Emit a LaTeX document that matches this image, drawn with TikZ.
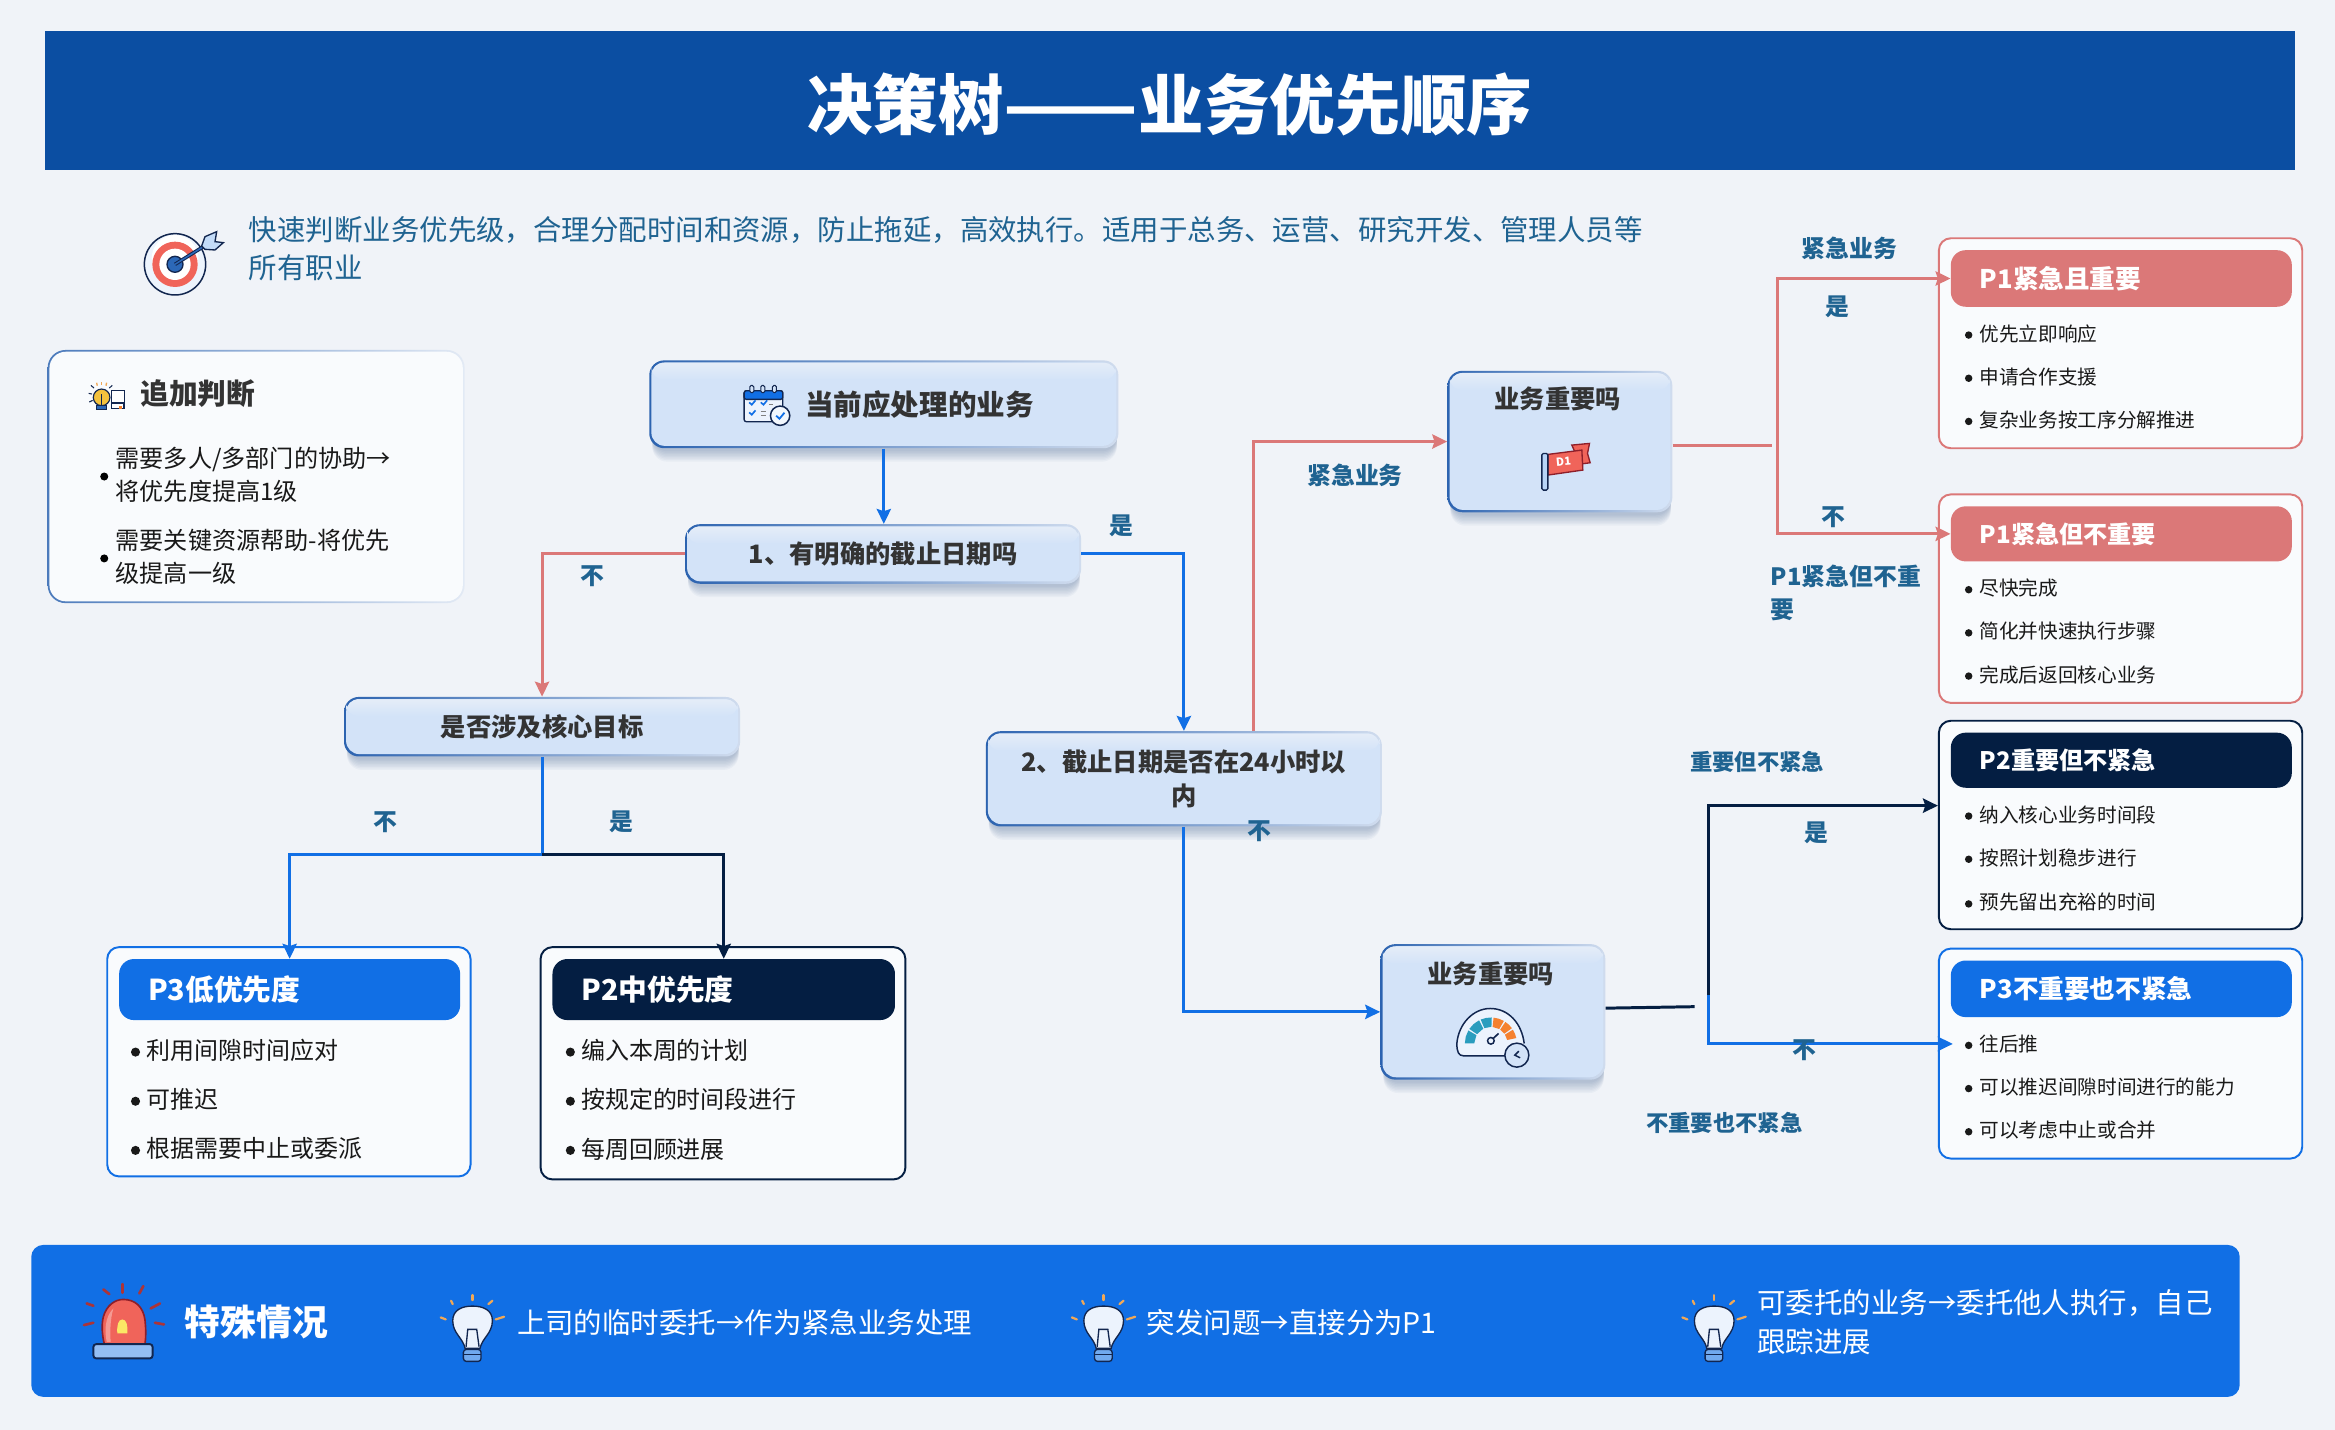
\documentclass[tikz,border=0pt]{standalone}
\usepackage{fontspec}
\setmainfont{Noto Sans CJK SC}
\usetikzlibrary{arrows.meta,calc}
\definecolor{bgc}{HTML}{F0F3F8}
\definecolor{titlec}{HTML}{0B4EA2}
\definecolor{tealc}{HTML}{1F6391}
\definecolor{bluec}{HTML}{116FE5}
\definecolor{navyc}{HTML}{041E42}
\definecolor{pinkc}{HTML}{DB7878}
\definecolor{decc}{HTML}{D3E3F8}
\definecolor{edgec}{HTML}{2C63B0}
\definecolor{edgeb}{HTML}{D0DCEE}
\definecolor{cardc}{HTML}{F9FBFD}
\definecolor{inkc}{HTML}{333333}
\definecolor{icn}{HTML}{12264F}
\definecolor{icblue}{HTML}{2C68B8}
\definecolor{icred}{HTML}{F0645A}
\definecolor{icdred}{HTML}{8E1F2A}
\definecolor{icorg}{HTML}{F5812F}
\definecolor{icteal}{HTML}{2A9DBE}
\definecolor{icray}{HTML}{F0A857}
\newcommand\myfs[2]{\fontsize{#1pt}{#2pt}\selectfont}
\tikzset{
  x=1pt,y=-1pt,
  conn/.style={line width=2pt,-{Stealth[length=10pt,width=9.5pt,inset=1.5pt]}},
  plain/.style={line width=2pt},
  edgelabel/.style={font=\myfs{16}{22}\bfseries,text=tealc,inner sep=0pt},
  itemtxt/.style={anchor=west,inner sep=0pt,text=black!90},
}
% decision box: name x1 y1 x2 y2 text
\newcommand\decbox[6]{%
  \foreach \i in {1,...,8}{\fill[edgec!70!black,opacity=.04,rounded corners=10pt] (#2+2,#3+\i+3) rectangle (#4-1,#5+\i+1);}
  \shade[left color=edgec,right color=edgeb,rounded corners=10pt] (#2,#3) rectangle (#4,#5);
  \fill[decc,rounded corners=9pt] (#2+1.4,#3+1.4) rectangle (#4-1.4,#5-1.6);
  \shade[top color=bgc!60!decc,bottom color=decc,rounded corners=8pt] (#2+1.6,#3+1.6) rectangle (#4-1.6,#3+13);
  \node[inner sep=0pt,minimum width={(#4-#2)*1pt},minimum height={(#5-#3)*1pt},align=center,text=inkc,font=\myfs{17}{23}\bfseries] (#1) at ({(#2+#4)/2},{(#3+#5)/2}) {#6};
}
% result card: name x1 y1 x2 y2 colour headerbottom fontsize text
\newcommand\rescard[9]{%
  \node[draw=#6,line width=1.3pt,fill=cardc,rounded corners=8pt,inner sep=0pt,minimum width={(#4-#2)*1pt},minimum height={(#5-#3)*1pt}] (#1) at ({(#2+#4)/2},{(#3+#5)/2}) {};
  \node[fill=#6,rounded corners=10pt,inner ysep=0pt,inner xsep=19.5pt,text width={(#4-#2-15-39)*1pt},minimum height={(#7-#3-8)*1pt},align=left,text=white,font=\myfs{#8}{#8}\bfseries] (#1h) at ({(#2+#4+1)/2},{(#3+8+#7)/2}) {#9};
}
\newcommand\ritem[5]{%
  \fill[black!90] (#2-7,#3+1) circle (#4*0.19pt);
  \node[itemtxt,font=\myfs{#4}{#4}] (#1) at (#2,#3) {#5};
}
\newcommand\bulbicon{%
  \foreach \a/\b/\c/\d in {63/62/68/72,127/45/127/60,187/62/175/72,32/112/47/118,222/110/197/118}
    {\draw[icray,line width=1.5pt,line cap=round] (\a,\b) -- (\c,\d);}
  \draw[icn,fill=white!92!bluec,line width=.9pt] (105,205) .. controls (100,175) and (68,160) .. (68,122) .. controls (68,90) and (95,78) .. (127,78) .. controls (160,78) and (187,90) .. (187,122) .. controls (187,160) and (155,175) .. (150,205) -- cycle;
  \draw[icn,line width=.9pt] (108,200) -- (113,148) -- (140,148) -- (147,200);
  \draw[icn,fill=bluec!60,line width=.9pt,rounded corners=2pt] (100,208) rectangle (153,244);
  \draw[icn,line width=.7pt] (100,222) -- (153,222);
}
\begin{document}
\begin{tikzpicture}
\useasboundingbox (0,0) rectangle (1568,960);
\fill[bgc] (0,0) rectangle (1568,960);

% title
\node[fill=titlec,inner sep=0pt,minimum width=1511pt,minimum height=93pt,text=white,font=\myfs{44}{50}\bfseries] (title) at (785.5,67.5) {\raisebox{-19.5pt}[0pt][0pt]{决策树\scalebox{1.2}[1]{——}业务优先顺序}};

% subtitle
\node[anchor=west,inner sep=0pt,text=tealc,align=left,font=\myfs{19.1}{26}] (subtitle) at (167,167) {快速判断业务优先级，合理分配时间和资源，防止拖延，高效执行。适用于总务、运营、研究开发、管理人员等\\所有职业};

% target icon
\begin{scope}[shift={(80.6,134.3)},scale=0.2238]
  \draw[icn,fill=white!70!bluec!25,line width=1pt] (165,193) circle (92);
  \fill[white] (165,175) circle (70);
  \fill[icred] (165,193) circle (68);
  \fill[white] (165,193) circle (47);
  \draw[icn,fill=icblue,line width=.9pt] (165,193) circle (24);
  \draw[icn,line width=2.4pt] (165,193) -- (250,140);
  \draw[icblue,line width=1pt] (165,193) -- (250,140);
  \draw[icn,fill=bluec!25,line width=.9pt] (245,138) -- (255,110) -- (290,95) -- (285,125) -- (310,128) -- (285,150) -- (255,148) -- cycle;
\end{scope}

% extra judgement card
\shade[left color=edgec!85,right color=edgeb!60!white,rounded corners=12pt] (32,235) rectangle (312,405);
\fill[cardc,rounded corners=11pt] (33.2,236.2) rectangle (310.8,403.8);
\begin{scope}[shift={(53.7,248.5)},scale=0.2238]
  \foreach \a/\b/\c/\d in {50/38/52/47,65/36/65/45,80/38/78/47}{\draw[icray,line width=.9pt] (\a,\b) -- (\c,\d);}
  \foreach \a/\b/\c/\d in {33/46/42/54,26/70/36/72,28/96/38/91,97/46/88/54}{\draw[icn,line width=.7pt] (\a,\b) -- (\c,\d);}
  \draw[icn,fill=icray!70!yellow,line width=.8pt] (65,82) circle (25);
  \draw[icn,line width=.8pt] (65,72) -- (65,104);
  \draw[icn,fill=icblue,line width=.6pt] (50,105) rectangle (80,118);
  \draw[icn,fill=white,line width=.7pt] (95,62) rectangle (135,98);
  \draw[icn,fill=white,line width=.8pt] (95,100) rectangle (132,115);
  \fill[icorg] (116,108) rectangle (127,116);
\end{scope}
\node[anchor=west,inner sep=0pt,text=inkc,font=\myfs{19.3}{24}\bfseries] (addtitle) at (94,264.5) {追加判断};
\fill[black] (70,320) circle (2.7pt);
\fill[black] (70,375) circle (2.7pt);
\node[anchor=west,inner sep=0pt,align=left,text=black!90,font=\myfs{16.2}{22}] (add1) at (77.5,319) {需要多人/多部门的协助→\\将优先度提高1级};
\node[anchor=west,inner sep=0pt,align=left,text=black!90,font=\myfs{16.2}{22}] (add2) at (77.5,374) {需要关键资源帮助-将优先\\级提高一级};

% decision boxes
\decbox{n0}{436}{242}{751}{301}{\hspace*{48pt}\myfs{19.2}{24}当前应处理的业务}
\decbox{n1}{460}{352}{726}{392}{1、有明确的截止日期吗}
\decbox{n3}{231}{468}{497}{508}{是否涉及核心目标}
\decbox{n2}{662}{491}{928}{555}{2、截止日期是否在24小时以\\内}
\decbox{v1}{972}{249}{1123}{344}{\hspace*{-3pt}业务重要吗\rule[-59pt]{0pt}{59pt}}
\decbox{v2}{927}{634}{1078}{725}{\hspace*{-3pt}业务重要吗\rule[-53pt]{0pt}{53pt}}

% calendar icon
\begin{scope}[shift={(490.3,248.5)},scale=0.2238]
  \draw[icn,fill=white!92!bluec,line width=.9pt,rounded corners=1.5pt] (42,62) rectangle (158,155);
  \draw[icn,fill=bluec,line width=.9pt,rounded corners=1.5pt] (42,62) rectangle (158,88);
  \foreach \a in {65,98,133}{\draw[icn,fill=decc,line width=.7pt,rounded corners=1pt] (\a-6,46) rectangle (\a+6,68);}
  \foreach \a/\b in {57/97,92/97,57/127}{\draw[bluec,line width=1.1pt] (\a,\b) -- (\a+8,\b+7) -- (\a+19,\b-6);}
  \draw[gray,line width=.6pt] (118,103) -- (130,103) (92,125) -- (108,125) (92,135) -- (108,135);
  \draw[icn,fill=white!70!decc,line width=1pt] (150,137) circle (29);
  \draw[bluec,line width=1.2pt] (138,137) -- (148,146) -- (163,128);
\end{scope}

% flag icon
\begin{scope}[shift={(1007.4,282.1)},scale=0.2238]
  \draw[icdred,fill=icred,line width=.9pt] (215,75) -- (268,70) -- (262,100) -- (270,128) -- (240,132) -- cycle;
  \draw[icdred,fill=icred,line width=.9pt] (143,103) -- (245,90) -- (248,150) -- (143,165) -- cycle;
  \draw[icn,fill=bluec!30,line width=.9pt,rounded corners=1pt] (125,100) rectangle (143,210);
  \node[text=white,inner sep=0pt,rotate=5,font=\myfs{7.5}{8}\bfseries] (flagtxt) at (190,124) {D1};
\end{scope}

% gauge icon
\begin{scope}[shift={(960.4,664.9)},scale=0.2238]
  \draw[icn,fill=white!92!bluec,line width=1pt] (225,197) -- (100,197) .. controls (85,197) and (80,185) .. (80,160) .. controls (85,100) and (130,55) .. (180,55) .. controls (235,55) and (275,100) .. (282,160);
  \foreach \s/\e/\c in {180/150/icteal,146/117/icteal,113/88/icteal,84/60/icorg,56/36/icorg,32/12/icorg}{
    \fill[\c] ({182+50*cos(\s)},{160-50*sin(\s)}) -- ({182+78*cos(\s)},{160-78*sin(\s)}) -- ({182+78*cos((\s+\e)/2)},{160-78*sin((\s+\e)/2)}) -- ({182+78*cos(\e)},{160-78*sin(\e)}) -- ({182+50*cos(\e)},{160-50*sin(\e)}) -- cycle;
  }
  \draw[icn,line width=1pt] (182,152) circle (10);
  \draw[icn,line width=1.1pt] (189,145) -- (205,130);
  \draw[icn,fill=decc,line width=1pt] (260,195) circle (36);
  \draw[icn,line width=1pt] (266,183) -- (254,195) -- (270,203);
\end{scope}

% result cards
\rescard{pa}{1302}{160}{1546}{301}{pinkc}{206}{17.2}{P1紧急且重要}
\ritem{pa1}{1329}{224}{13.2}{优先立即响应}
\ritem{pa2}{1329}{253}{13.2}{申请合作支援}
\ritem{pa3}{1329}{282}{13.2}{复杂业务按工序分解推进}

\rescard{pb}{1302}{332}{1546}{472}{pinkc}{377}{16.2}{P1紧急但不重要}
\ritem{pb1}{1329}{395}{13.2}{尽快完成}
\ritem{pb2}{1329}{424}{13.2}{简化并快速执行步骤}
\ritem{pb3}{1329}{453}{13.2}{完成后返回核心业务}

\rescard{pc}{1302}{484}{1546}{624}{navyc}{529}{16.2}{P2重要但不紧急}
\ritem{pc1}{1329}{547}{13.2}{纳入核心业务时间段}
\ritem{pc2}{1329}{576}{13.2}{按照计划稳步进行}
\ritem{pc3}{1329}{606}{13.2}{预先留出充裕的时间}

\rescard{pd}{1302}{637}{1546}{778}{bluec}{683}{17.2}{P3不重要也不紧急}
\ritem{pd1}{1329}{701}{13.2}{往后推}
\ritem{pd2}{1329}{730}{13.2}{可以推迟间隙时间进行的能力}
\ritem{pd3}{1329}{759}{13.2}{可以考虑中止或合并}

\rescard{pe}{72}{636}{316}{790}{bluec}{685}{19.3}{P3低优先度}
\ritem{pe1}{98}{705.5}{16.1}{利用间隙时间应对}
\ritem{pe2}{98}{738.5}{16.1}{可推迟}
\ritem{pe3}{98}{771.5}{16.1}{根据需要中止或委派}

\rescard{pf}{363}{636}{608}{792}{navyc}{685}{19.3}{P2中优先度}
\ritem{pf1}{390}{705.5}{16.1}{编入本周的计划}
\ritem{pf2}{390}{738.5}{16.1}{按规定的时间段进行}
\ritem{pf3}{390}{771.5}{16.1}{每周回顾进展}

% connector coordinates
\coordinate (ja) at (364,574);
\coordinate (jb) at (842,491);
\coordinate (jc) at (1190,299);
\coordinate (jd) at (1193.5,299);
\coordinate (je) at (1138,676);
\coordinate (jf) at (1147,668);

% connectors
\draw[conn,bluec] (n0.south) -- (n0.south |- n1.north);
\draw[conn,pinkc] (n1.west) -| (n3.north);
\draw[conn,bluec] (n1.east) -| (n2.north);
\draw[plain,bluec] (n3.south) -- (ja);
\draw[conn,bluec] (ja) -| (peh.north);
\draw[conn,navyc] (ja) -| (pfh.north);
\draw[conn,pinkc] (jb) |- (v1.west);
\draw[conn,bluec] (n2.south) |- (v2.west);
\draw[plain,pinkc] ([yshift=-2.5pt]v1.east) -- (jc);
\draw[conn,pinkc] (jd) |- (pah.west);
\draw[conn,pinkc] (jd) |- (pbh.west);
\draw[plain,navyc] ([yshift=2.5pt]v2.east) -- (je);
\draw[conn,navyc] (jf) |- ([yshift=13pt]pc.west);
\draw[conn,bluec] (jf) |- ([xshift=10pt,yshift=6.5pt]pd.west);

% edge labels
\node[edgelabel] (la) at (753,353) {是};
\node[edgelabel] (lb) at (398,387) {不};
\node[edgelabel] (lc) at (910,319) {紧急业务};
\node[edgelabel] (ld) at (1242,167) {紧急业务};
\node[edgelabel] (le) at (1234,206) {是};
\node[edgelabel] (lf) at (1231,347) {不};
\node[edgelabel,anchor=west,align=left] (lg) at (1189,398) {P1紧急但不重\\要};
\node[edgelabel] (lh) at (259,552) {不};
\node[edgelabel] (li) at (417,552) {是};
\node[edgelabel] (lj) at (846,558) {不};
\node[edgelabel,font=\myfs{15}{20}\bfseries] (lk) at (1180,512) {重要但不紧急};
\node[edgelabel] (ll) at (1220,559) {是};
\node[edgelabel] (lm) at (1212,705) {不};
\node[edgelabel,font=\myfs{15}{20}\bfseries] (ln) at (1158,754) {不重要也不紧急};

% bottom band
\node[fill=bluec,rounded corners=8pt,inner sep=0pt,minimum width=1483pt,minimum height=102pt] (band) at (762.5,887) {};
\begin{scope}[shift={(40.3,852.9)},scale=0.2238]
  \foreach \a/\b/\c/\d in {188/42/188/68,130/58/148/72,250/48/238/70,80/100/100/107,72/165/100/158,300/100/272/115,285/158/312/163}
    {\draw[icdred!70!icred,line width=1.8pt,line cap=round] (\a,\b) -- (\c,\d);}
  \draw[icdred,fill=icred,line width=1.1pt] (133,222) .. controls (125,190) and (125,160) .. (130,140) .. controls (140,105) and (165,88) .. (190,88) .. controls (225,88) and (250,110) .. (255,150) .. controls (258,180) and (258,200) .. (255,222) -- cycle;
  \fill[white,opacity=.35] (140,215) .. controls (133,180) and (135,140) .. (160,115) .. controls (150,150) and (150,190) .. (152,215) -- cycle;
  \fill[icray!40!yellow!70!white] (172,190) .. controls (170,165) and (175,148) .. (187,148) .. controls (199,148) and (204,165) .. (202,190) -- cycle;
  \draw[icn,fill=bluec!45,line width=1.3pt,rounded corners=2pt] (100,222) rectangle (278,265);
\end{scope}
\node[anchor=west,inner sep=0pt,text=white,font=\myfs{24}{28}\bfseries] (bandtitle) at (124,888) {特殊情况};
\begin{scope}[shift={(288.8,859.6)},scale=0.2238]\bulbicon\end{scope}
\begin{scope}[shift={(712.6,859.6)},scale=0.2238]\bulbicon\end{scope}
\begin{scope}[shift={(1122.6,859.6)},scale=0.2238]\bulbicon\end{scope}
\node[anchor=west,inner sep=0pt,text=white,font=\myfs{19.1}{26}] (b1) at (347,888) {上司的临时委托→作为紧急业务处理};
\node[anchor=west,inner sep=0pt,text=white,font=\myfs{19.1}{26}] (b2) at (770,888) {突发问题→直接分为P1};
\node[anchor=west,inner sep=0pt,text=white,align=left,font=\myfs{19.1}{26}] (b3) at (1180,888) {可委托的业务→委托他人执行，自己\\跟踪进展};
\end{tikzpicture}
\end{document}
